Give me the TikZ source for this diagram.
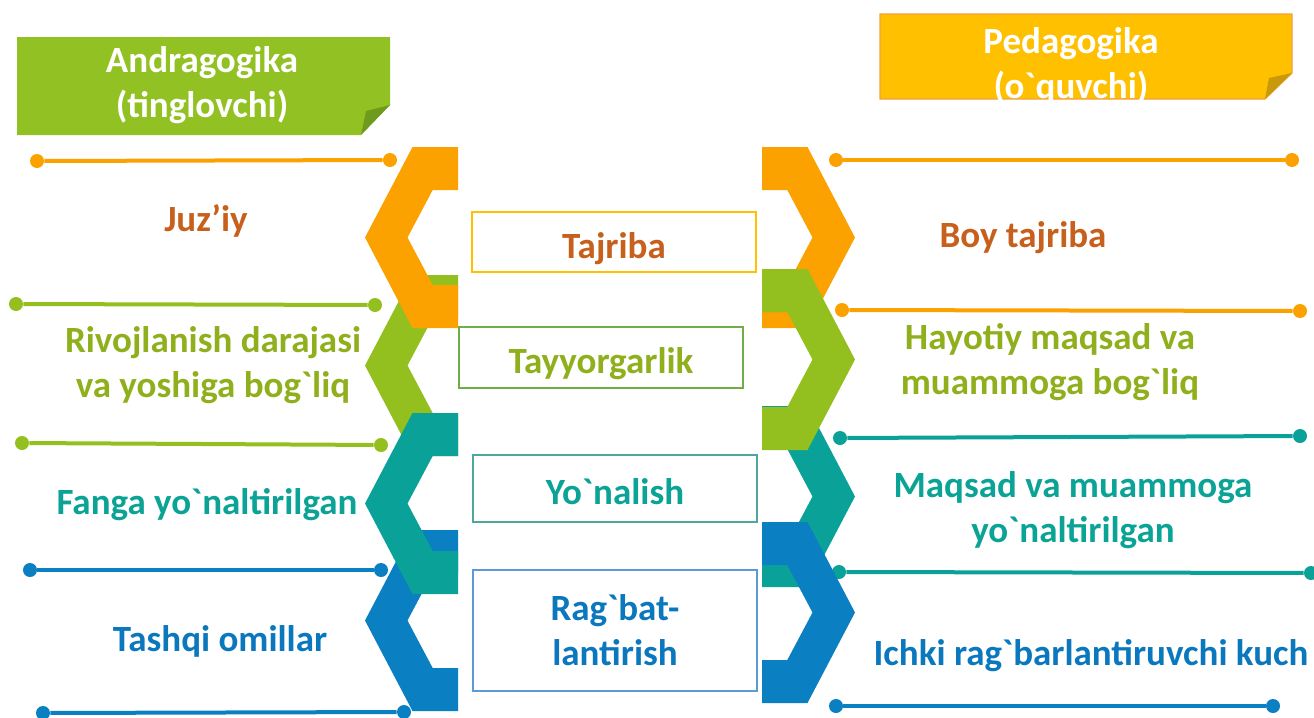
\documentclass[tikz,border=0pt]{standalone}
\usepackage{fontspec}
\setmainfont{Carlito}[Ligatures=TeXOff]
\usepackage{tikz}
\usetikzlibrary{positioning}
\definecolor{cOrange}{HTML}{FBA100}
\definecolor{cGreen}{HTML}{93C01F}
\definecolor{cTeal}{HTML}{0AA298}
\definecolor{cBlue}{HTML}{0A7FC2}
\definecolor{tBrown}{HTML}{C6601C}
\definecolor{tGreen}{HTML}{8FB01C}
\definecolor{tTeal}{HTML}{0AA396}
\definecolor{tBlue}{HTML}{0B78BE}
\definecolor{andrafill}{HTML}{92C123}
\definecolor{andrafold}{HTML}{6E9B1E}
\definecolor{pedafill}{HTML}{FFC000}
\definecolor{pedaline}{HTML}{F2A040}
\definecolor{pedafold}{HTML}{C89A0A}
\definecolor{boxgreen}{HTML}{70AD47}
\definecolor{boxteal}{HTML}{4BA89A}
\definecolor{boxblue}{HTML}{5B9BD5}
\newcommand{\chevleft}[2]{\fill[#2] (412.5,#1) -- (458,#1) -- (458,#1+43) -- (432.7,#1+43) -- (407.5,#1+90.5) -- (432.7,#1+138) -- (458,#1+138) -- (458,#1+181) -- (412.5,#1+181) -- (365,#1+90.5) -- cycle;}
\newcommand{\chevright}[2]{\fill[#2] (807.5,#1) -- (762,#1) -- (762,#1+43) -- (787.3,#1+43) -- (812.5,#1+90.5) -- (787.3,#1+138) -- (762,#1+138) -- (762,#1+181) -- (807.5,#1+181) -- (855,#1+90.5) -- cycle;}
\tikzstyle{endpt} = [circle, inner sep=0pt, minimum size=7pt]
\tikzstyle{rail} = [line width=2pt]
\tikzstyle{headtext} = [text=white, font=\bfseries\fontsize{18.5}{22.5}\selectfont, align=center]
\tikzstyle{sidetext} = [font=\bfseries\fontsize{18.5}{22.5}\selectfont, align=center]
\tikzstyle{midbox} = [draw, line width=1.3pt, fill=white, minimum width=142pt, inner sep=2pt, font=\bfseries\fontsize{18.5}{22.5}\selectfont, align=center]
\tikzstyle{oneline} = [text height=16pt, text depth=0pt]
\begin{document}
\begin{tikzpicture}[x=0.5pt,y=-0.5pt]
	\useasboundingbox (0,0) rectangle (1314,718);
	\fill[andrafill] (17,37) -- (390,37) -- (390,105) -- (361,135) -- (17,135) -- cycle;
	\fill[andrafold] (390,105) -- (366,111) -- (361,135) -- cycle;
	\node[headtext] (andra) at (202,85) {Andragogika\\(tinglovchi)};
	\filldraw[fill=pedafill, draw=pedaline, line width=0.6pt] (880,14) -- (1292,14) -- (1292,73) -- (1265,99) -- (880,99) -- cycle;
	\fill[pedafold] (1292,73) -- (1269,78) -- (1265,99) -- cycle;
	\node[headtext] (peda) at (1071,66) {Pedagogika\\(o`quvchi)};

	\node[endpt, fill=cOrange] (la1) at (37,161) {};
	\node[endpt, fill=cOrange] (lb1) at (390,160) {};
	\node[endpt, fill=cGreen] (la2) at (16,304) {};
	\node[endpt, fill=cGreen] (lb2) at (375,305) {};
	\node[endpt, fill=cGreen] (la3) at (22,443) {};
	\node[endpt, fill=cGreen] (lb3) at (381,445) {};
	\node[endpt, fill=cBlue] (la4) at (30,570) {};
	\node[endpt, fill=cBlue] (lb4) at (381,570) {};
	\node[endpt, fill=cBlue] (la5) at (43,713) {};
	\node[endpt, fill=cBlue] (lb5) at (404,712) {};
	\node[endpt, fill=cOrange] (ra1) at (836,160) {};
	\node[endpt, fill=cOrange] (rb1) at (1292,160) {};
	\node[endpt, fill=cOrange] (ra2) at (842,310) {};
	\node[endpt, fill=cOrange] (rb2) at (1300,311) {};
	\node[endpt, fill=cTeal] (ra3) at (840,438) {};
	\node[endpt, fill=cTeal] (rb3) at (1300,436) {};
	\node[endpt, fill=cTeal] (ra4) at (839,572) {};
	\node[endpt, fill=cTeal] (rb4) at (1311,573) {};
	\node[endpt, fill=cBlue] (ra5) at (836,706) {};
	\node[endpt, fill=cBlue] (rb5) at (1273,706) {};
	\draw[rail, cOrange] (la1) -- (lb1);
	\draw[rail, cGreen] (la2) -- (lb2);
	\draw[rail, cGreen] (la3) -- (lb3);
	\draw[rail, cBlue] (la4) -- (lb4);
	\draw[rail, cBlue] (la5) -- (lb5);
	\draw[rail, cOrange] (ra1) -- (rb1);
	\draw[rail, cOrange] (ra2) -- (rb2);
	\draw[rail, cTeal] (ra3) -- (rb3);
	\draw[rail, cTeal] (ra4) -- (rb4);
	\draw[rail, cBlue] (ra5) -- (rb5);

	\chevleft{275}{cGreen}
	\chevleft{530}{cBlue}
	\chevleft{413}{cTeal}
	\chevleft{147}{cOrange}
	\chevright{147}{cOrange}
	\chevright{406}{cTeal}
	\chevright{269}{cGreen}
	\chevright{522}{cBlue}

	\node[midbox, oneline, draw=pedafill, text=tBrown, minimum height=30pt] (tajriba) at (614,242) {Tajriba};
	\node[midbox, oneline, draw=boxgreen, text=tGreen, minimum height=30.5pt] (tayyor) at (601,357.5) {Tayyorgarlik};
	\node[midbox, oneline, draw=boxteal, text=tTeal, minimum height=33.5pt] (yonal) at (615,488.5) {Yo`nalish};
	\node[midbox, draw=boxblue, text=tBlue, minimum height=60.5pt] (ragbat) at (615,630.5) {Rag`bat-\\lantirish};

	\node[sidetext, text=tBrown, anchor=base] (juz) at (206,231) {Juz’iy};
	\node[sidetext, text=tGreen] (rivoj) at (213,365) {Rivojlanish darajasi\\va yoshiga bog`liq};
	\node[sidetext, text=tTeal, anchor=base] (fanga) at (207,514) {Fanga yo`naltirilgan};
	\node[sidetext, text=tBlue, anchor=base] (tashqi) at (220,651) {Tashqi omillar};
	\node[sidetext, text=tBrown, anchor=base] (boy) at (1023,247) {Boy tajriba};
	\node[sidetext, text=tGreen] (hayot) at (1050,362) {Hayotiy maqsad va\\muammoga bog`liq};
	\node[sidetext, text=tTeal] (maqsad) at (1073,510) {Maqsad va muammoga\\yo`naltirilgan};
	\node[sidetext, text=tBlue, anchor=base] (ichki) at (1091,665) {Ichki rag`barlantiruvchi kuch};
\end{tikzpicture}
\end{document}
